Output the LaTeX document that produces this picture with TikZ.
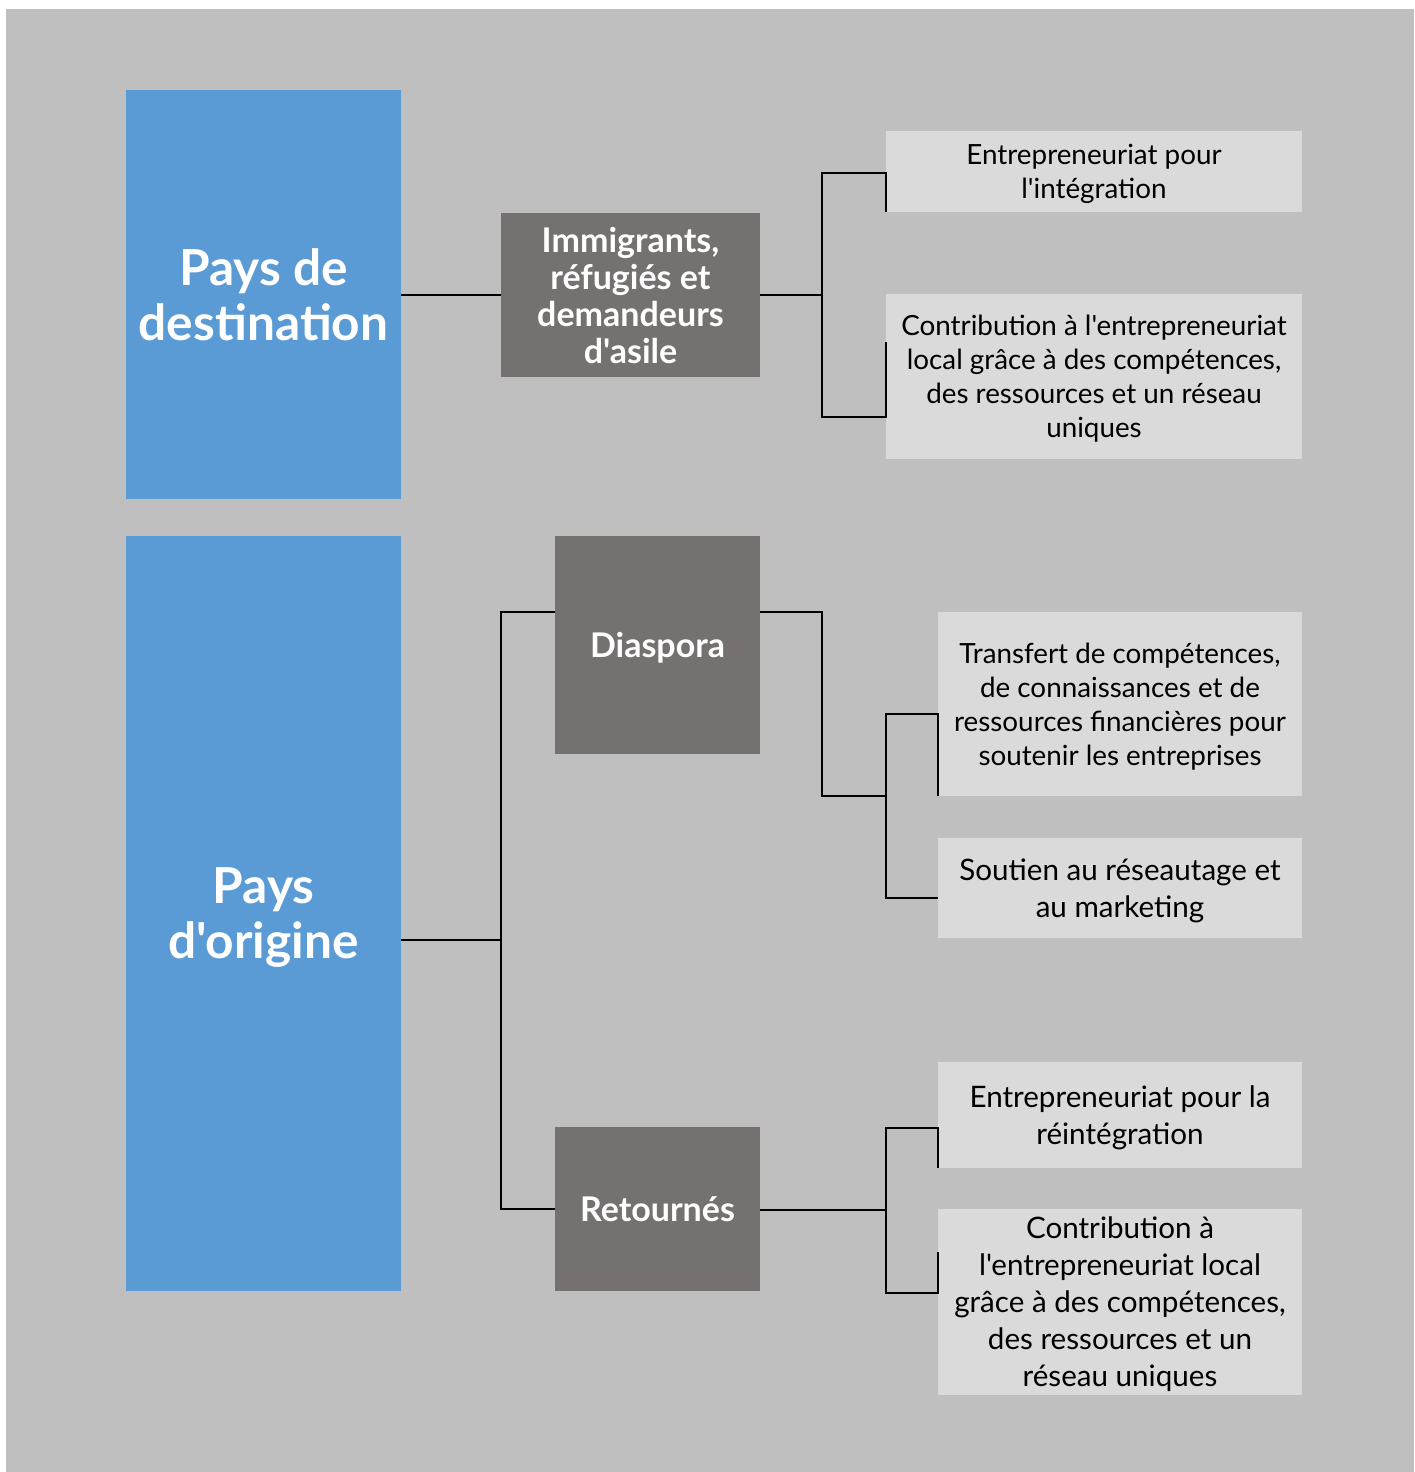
\documentclass[tikz,border=0pt]{standalone}
\usepackage{fontspec}
\setmainfont{Lato}[Ligatures=TeXOff]
\begin{document}
\begin{tikzpicture}[x=0.5pt,y=-0.5pt,
  bluebox/.style={fill=blueC, draw=none, inner sep=0pt, align=center, text=white, text depth=-2pt, font=\bfseries\fontsize{24.8}{27.5}\selectfont},
  darkbox/.style={fill=darkC, draw=none, inner sep=0pt, align=center, text=white, text depth=-2pt, font=\bfseries\fontsize{17}{18.5}\selectfont},
  lightbox/.style={fill=lightC, draw=none, inner sep=0pt, align=center, text=black, text depth=-5pt, font=\fontsize{13.9}{17}\selectfont},
  lightboxb/.style={lightbox, font=\fontsize{14.8}{18.5}\selectfont},
  conn/.style={draw=black, line width=1pt}]
\definecolor{blueC}{HTML}{5B9BD5}
\definecolor{darkC}{HTML}{767171}
\definecolor{lightC}{HTML}{DADADA}
\definecolor{bgC}{HTML}{BFBFBF}
\fill[white] (0,0) rectangle (1414,1472);
\fill[bgC] (6,9) rectangle (1414,1472);
\useasboundingbox (0,0) rectangle (1414,1472);

\node[bluebox, minimum width=137.5pt, minimum height=204.5pt] (blue1) at (263.5,294.5) {Pays de\\destination};
\node[bluebox, minimum width=137.5pt, minimum height=377.5pt] (blue2) at (263.5,913.5) {Pays\\d'origine};

\node[darkbox, minimum width=129.5pt, minimum height=82pt] (imm) at (630.5,295) {Immigrants,\\réfugiés et\\demandeurs\\d'asile};
\node[darkbox, minimum width=102.5pt, minimum height=109pt] (dias) at (657.5,645) {Diaspora};
\node[darkbox, minimum width=102.5pt, minimum height=82pt] (ret) at (657.5,1209) {Retournés};

\node[lightbox, minimum width=208pt, minimum height=40.5pt] (l1) at (1094,171.5) {Entrepreneuriat pour\\l'intégration};
\node[lightbox, minimum width=208pt, minimum height=82.5pt] (l2) at (1094,376.5) {Contribution à l'entrepreneuriat\\local grâce à des compétences,\\des ressources et un réseau\\uniques};
\node[lightbox, minimum width=182pt, minimum height=92pt] (l3) at (1120,704) {Transfert de compétences,\\de connaissances et de\\ressources financières pour\\soutenir les entreprises};
\node[lightboxb, minimum width=182pt, minimum height=50pt] (l4) at (1120,888) {Soutien au réseautage et\\au marketing};
\node[lightboxb, minimum width=182pt, minimum height=53pt] (l5) at (1120,1115) {Entrepreneuriat pour la\\réintégration};
\node[lightboxb, minimum width=182pt, minimum height=93pt] (l6) at (1120,1302) {Contribution à\\l'entrepreneuriat local\\grâce à des compétences,\\des ressources et un\\réseau uniques};

% connectors
\coordinate (j1) at (822,295);
\coordinate (j2) at (501,940);
\coordinate (j3) at (822,612);
\coordinate (j4) at (886,796);
\coordinate (j5) at (886,1210);

\draw[conn] (blue1.east |- imm.west) -- (imm.west);
\draw[conn] (imm.east) -- (j1);
\draw[conn] (l1.south west) |- (j1 |- 0,173) -- (j1 |- 0,417) -| (l2.west |- 0,342);

\draw[conn] (blue2.east |- j2) -- (j2);
\draw[conn] (dias.west |- 0,612) -- (j2 |- 0,612) -- (j2 |- ret.west) -- (ret.west);

\draw[conn] (dias.east |- j3) -- (j3) |- (j4);
\draw[conn] (l3.south west) |- (j4 |- 0,714) -- (j4 |- 0,898) -- (l4.west |- 0,898);

\draw[conn] (ret.east |- j5) -- (j5);
\draw[conn] (l5.south west) |- (j5 |- 0,1128) -- (j5 |- 0,1293) -| (l6.west |- 0,1252);
\end{tikzpicture}
\end{document}
